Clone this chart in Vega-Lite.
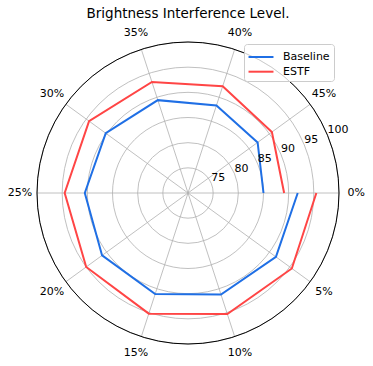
{
  "$schema": "https://vega.github.io/schema/vega-lite/v6.json",
  "width": 302,
  "height": 302,
  "autosize": "none",
  "padding": {"left": 37, "top": 42, "right": 34, "bottom": 22},
  "title": {"text": "Brightness Interference Level.", "fontSize": 13.5, "font": "DejaVu Sans", "fontWeight": "normal", "anchor": "middle", "color": "black", "dy": -3},
  "config": {"view": {"stroke": null}, "font": "DejaVu Sans"},
  "datasets": {
    "series": [
      {"series": "Baseline", "level": 0, "value": 91.8},
      {"series": "Baseline", "level": 5, "value": 91.6},
      {"series": "Baseline", "level": 10, "value": 91.2},
      {"series": "Baseline", "level": 15, "value": 91.1},
      {"series": "Baseline", "level": 20, "value": 91.1},
      {"series": "Baseline", "level": 25, "value": 90.5},
      {"series": "Baseline", "level": 30, "value": 90.2},
      {"series": "Baseline", "level": 35, "value": 89.4},
      {"series": "Baseline", "level": 40, "value": 88.3},
      {"series": "Baseline", "level": 45, "value": 87.1},
      {"series": "Baseline", "level": 50, "value": 85.0},
      {"series": "ESTF", "level": 0, "value": 95.5},
      {"series": "ESTF", "level": 5, "value": 95.5},
      {"series": "ESTF", "level": 10, "value": 95.3},
      {"series": "ESTF", "level": 15, "value": 95.2},
      {"series": "ESTF", "level": 20, "value": 95.0},
      {"series": "ESTF", "level": 25, "value": 94.5},
      {"series": "ESTF", "level": 30, "value": 94.3},
      {"series": "ESTF", "level": 35, "value": 93.2},
      {"series": "ESTF", "level": 40, "value": 92.3},
      {"series": "ESTF", "level": 45, "value": 90.6},
      {"series": "ESTF", "level": 50, "value": 89.1}
    ],
    "ticks": [
      {"level": 0, "label": "0%"},
      {"level": 5, "label": "5%"},
      {"level": 10, "label": "10%"},
      {"level": 15, "label": "15%"},
      {"level": 20, "label": "20%"},
      {"level": 25, "label": "25%"},
      {"level": 30, "label": "30%"},
      {"level": 35, "label": "35%"},
      {"level": 40, "label": "40%"},
      {"level": 45, "label": "45%"}
    ],
    "rings": [
      {"r": 75}, {"r": 80}, {"r": 85}, {"r": 90}, {"r": 95}, {"r": 100}
    ]
  },
  "layer": [
    {
      "data": {"name": "rings"},
      "mark": {"type": "arc", "theta": 0, "theta2": 6.2832, "filled": false, "fill": "transparent", "stroke": "#b0b0b0", "strokeWidth": 0.8},
      "encoding": {
        "radius": {"field": "r", "type": "quantitative", "stack": null, "scale": {"type": "linear", "domain": [70, 100], "range": [0, 151], "zero": false, "nice": false}}
      }
    },
    {
      "data": {"name": "ticks"},
      "transform": [
        {"calculate": "-datum.level / 50 * 2 * PI", "as": "a"},
        {"calculate": "30 * cos(datum.a)", "as": "ex"},
        {"calculate": "30 * sin(datum.a)", "as": "ey"}
      ],
      "mark": {"type": "rule", "color": "#b0b0b0", "strokeWidth": 0.8},
      "encoding": {
        "x": {"field": "ex", "type": "quantitative", "scale": {"domain": [-30, 30], "nice": false, "zero": false}, "axis": null},
        "y": {"field": "ey", "type": "quantitative", "scale": {"domain": [-30, 30], "nice": false, "zero": false}, "axis": null},
        "x2": {"datum": 0},
        "y2": {"datum": 0}
      }
    },
    {
      "data": {"name": "series"},
      "transform": [
        {"calculate": "-datum.level / 50 * 2 * PI", "as": "a"},
        {"calculate": "(datum.value - 70) * cos(datum.a)", "as": "px"},
        {"calculate": "(datum.value - 70) * sin(datum.a)", "as": "py"}
      ],
      "mark": {"type": "line", "strokeWidth": 2},
      "encoding": {
        "x": {"field": "px", "type": "quantitative"},
        "y": {"field": "py", "type": "quantitative"},
        "order": {"field": "level", "type": "quantitative"},
        "color": {
          "field": "series", "type": "nominal",
          "scale": {"domain": ["Baseline", "ESTF"], "range": ["#1f6fe5", "#ff4545"]},
          "legend": {
            "title": null, "orient": "none", "legendX": 207, "legendY": 2,
            "padding": 4, "symbolType": "M-1.56,0H1.56", "symbolSize": 256, "symbolStrokeWidth": 2,
            "symbolOffset": 4, "labelOffset": 13, "labelFontSize": 11, "labelFont": "DejaVu Sans", "labelColor": "black",
            "rowPadding": 0.7, "fillColor": "rgba(255,255,255,0.8)", "strokeColor": "#cccccc", "cornerRadius": 3
          }
        }
      }
    },
    {
      "data": {"name": "ticks"},
      "transform": [
        {"calculate": "-datum.level / 50 * 2 * PI", "as": "a"},
        {"calculate": "33.4 * cos(datum.a)", "as": "lx"},
        {"calculate": "33.4 * sin(datum.a)", "as": "ly"}
      ],
      "mark": {"type": "text", "fontSize": 11, "font": "DejaVu Sans", "color": "black", "align": "center", "baseline": "middle"},
      "encoding": {
        "x": {"field": "lx", "type": "quantitative"},
        "y": {"field": "ly", "type": "quantitative"},
        "text": {"field": "label"}
      }
    },
    {
      "data": {"name": "rings"},
      "transform": [
        {"calculate": "22.5 * PI / 180", "as": "a"},
        {"calculate": "(datum.r - 70) * cos(datum.a)", "as": "tx"},
        {"calculate": "(datum.r - 70) * sin(datum.a)", "as": "ty"}
      ],
      "mark": {"type": "text", "fontSize": 11, "font": "DejaVu Sans", "color": "black", "align": "left", "baseline": "bottom"},
      "encoding": {
        "x": {"field": "tx", "type": "quantitative"},
        "y": {"field": "ty", "type": "quantitative"},
        "text": {"field": "r", "type": "quantitative"}
      }
    },
    {
      "data": {"values": [{"r": 100}]},
      "mark": {"type": "arc", "theta": 0, "theta2": 6.2832, "filled": false, "fill": "transparent", "stroke": "black", "strokeWidth": 1},
      "encoding": {
        "radius": {"field": "r", "type": "quantitative", "stack": null}
      }
    }
  ]
}
